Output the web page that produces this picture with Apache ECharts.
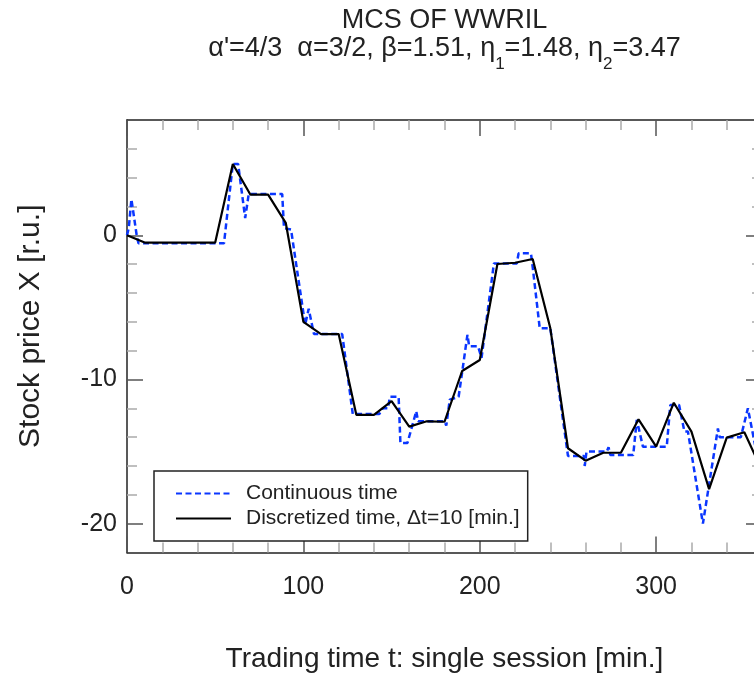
<!DOCTYPE html>
<html>
<head>
<meta charset="utf-8">
<script src="https://cdn.jsdelivr.net/npm/echarts@6/dist/echarts.min.js"></script>
<style>html,body{margin:0;padding:0;background:#fff}#c{width:754px;height:673px}</style>
</head>
<body>
<div id="c"></div>
<script>
// ---- data ----
const discreteTimes = [0,10,20,30,40,50,60,70,80,90,100,110,120,130,140,150,160,170,180,190,200,210,220,230,240,250,260,270,280,290,300,310,320,330,340,350,360];
const discreteValues = [0,-0.5,-0.5,-0.5,-0.5,-0.5,4.95,2.82,2.82,0.87,-6.0,-6.85,-6.85,-12.45,-12.45,-11.5,-13.27,-12.9,-12.93,-9.41,-8.65,-1.99,-1.9,-1.64,-6.45,-14.77,-15.63,-15.08,-15.08,-12.76,-14.66,-11.61,-13.62,-17.6,-14.03,-13.66,-16.3];
const continuousTimes = [0,1,2.5,3.5,5.5,6.5,55,60,63,67,69,88,89,93,101,103,104,106,122,128,143,145,148,149,154,155,159,164,165,180,181,183,188,190,193,194,199,201,207,208,221,222,229,230,234,240,250,259,259.5,260.5,272,273,274,287,289,292.5,306,308,313,316,318,326.5,335,336,348,352,353,356,360];
const continuousValues = [0,0.5,2.5,2.5,0,-0.55,-0.55,4.95,4.95,1.2,2.86,2.86,0.5,0.4,-6.2,-5.1,-5.1,-6.85,-6.85,-12.4,-12.4,-12.0,-12.0,-11.2,-11.2,-14.4,-14.4,-12.2,-12.9,-12.9,-13.2,-11.4,-11.2,-9.5,-6.9,-7.7,-7.7,-8.5,-2.9,-1.95,-1.95,-1.25,-1.25,-2.2,-6.45,-6.45,-15.3,-15.3,-16.0,-15.0,-15.0,-14.7,-15.24,-15.24,-12.8,-14.66,-14.66,-11.77,-11.77,-13.6,-13.6,-20.0,-13.4,-14.0,-14.0,-12.0,-12.0,-14.5,-16.2];
const xMajorTicks = [0,100,200,300];
const xMinorTicks = [20,40,60,80,120,140,160,180,220,240,260,280,320,340];
const yMajorTicks = [-20,-10,0];
const yMinorTicks = [-18,-16,-14,-12,-8,-6,-4,-2,2,4,6];
const seriesNames = ['Continuous time', 'Discretized time, \u0394t=10 [min.]'];
const titleText = 'MCS OF WWRIL';
const subtitleRich = "\u03b1'=4/3  \u03b1=3/2, \u03b2=1.51, \u03b7{s|1}=1.48, \u03b7{s|2}=3.47";
const xName = 'Trading time t: single session [min.]';
const yName = 'Stock price X [r.u.]';

const FONT = 'Liberation Sans';
const TXT = '#222';
const chart = echarts.init(document.getElementById('c'), null, {renderer: 'canvas'});

function mkX(pos, ticks, len, color, withLine, withLabel) {
  return {
    type: 'value', position: pos, min: 0, max: 360, gridIndex: 0,
    axisLine: {show: withLine, onZero: false, lineStyle: {color: '#222', width: 1.5}},
    axisTick: {show: true, inside: true, length: len, customValues: ticks, lineStyle: {color: color, width: 1.5}},
    axisLabel: withLabel ? {show: true, customValues: ticks, fontSize: 25, fontFamily: FONT, color: TXT, margin: 22} : {show: false},
    splitLine: {show: false}
  };
}
function mkY(pos, ticks, len, color, withLine, withLabel) {
  return {
    type: 'value', position: pos, min: -22, max: 8, gridIndex: 0,
    axisLine: {show: withLine, onZero: false, lineStyle: {color: '#222', width: 1.5}},
    axisTick: {show: true, inside: true, length: len, customValues: ticks, lineStyle: {color: color, width: 1.5}},
    axisLabel: withLabel ? {show: true, customValues: ticks, fontSize: 25, fontFamily: FONT, color: TXT, margin: 10} : {show: false},
    splitLine: {show: false}
  };
}

const x0 = mkX('bottom', xMajorTicks, 16, '#555', true, true);
x0.name = xName; x0.nameLocation = 'middle'; x0.nameGap = 93;
x0.nameTextStyle = {fontSize: 28, fontFamily: FONT, color: TXT};
const y0 = mkY('left', yMajorTicks, 16, '#555', true, true);
y0.name = yName; y0.nameLocation = 'middle'; y0.nameGap = 81;
y0.nameTextStyle = {fontSize: 30, fontFamily: FONT, color: TXT, padding: [0, 0, 0, 20]};

const option = {
  animation: false,
  backgroundColor: '#fff',
  grid: {left: 127, top: 120, width: 635, height: 432.5, containLabel: false, outerBoundsMode: 'none'},
  xAxis: [
    x0,
    mkX('bottom', xMinorTicks, 10, '#aaa', false, false),
    mkX('top', xMajorTicks, 16, '#555', true, false),
    mkX('top', xMinorTicks, 10, '#aaa', false, false)
  ],
  yAxis: [
    y0,
    mkY('left', yMinorTicks, 10, '#aaa', false, false),
    mkY('right', yMajorTicks, 16, '#555', true, false),
    mkY('right', yMinorTicks, 10, '#aaa', false, false)
  ],
  legend: {
    orient: 'vertical', left: 154, top: 471,
    padding: [12, 8, 12, 21], itemGap: 4, itemWidth: 55, itemHeight: 14,
    borderColor: '#222', borderWidth: 1.5, backgroundColor: '#fff',
    itemStyle: {color: 'rgba(0,0,0,0)', borderWidth: 0, opacity: 0},
    textStyle: {fontSize: 21, fontFamily: FONT, color: TXT, padding: [0, 0, 0, 10]},
    data: seriesNames
  },
  graphic: [
    {type: 'text', x: 444.5, y: 21, style: {text: titleText, align: 'center', verticalAlign: 'middle', fontSize: 27, fontFamily: FONT, fill: TXT}},
    {type: 'text', x: 444.5, y: 49, style: {text: subtitleRich, align: 'center', verticalAlign: 'middle', fontSize: 27, fontFamily: FONT, fill: TXT, lineHeight: 30,
      rich: {s: {fontSize: 17, fontFamily: FONT, fill: TXT, lineHeight: 30, padding: [30, 0, 0, 0]}}}}
  ],
  series: [
    {
      name: seriesNames[0], type: 'line', xAxisIndex: 0, yAxisIndex: 0,
      data: continuousTimes.map((t, i) => [t, continuousValues[i]]),
      symbol: 'none', lineStyle: {color: '#0a36ff', width: 2.5, type: [6, 3.5]},
      itemStyle: {color: '#0a36ff'}
    },
    {
      name: seriesNames[1], type: 'line', xAxisIndex: 0, yAxisIndex: 0,
      data: discreteTimes.map((t, i) => [t, discreteValues[i]]),
      symbol: 'none', lineStyle: {color: '#000', width: 2.2},
      itemStyle: {color: '#000'}
    }
  ]
};
chart.setOption(option);
</script>
</body>
</html>
